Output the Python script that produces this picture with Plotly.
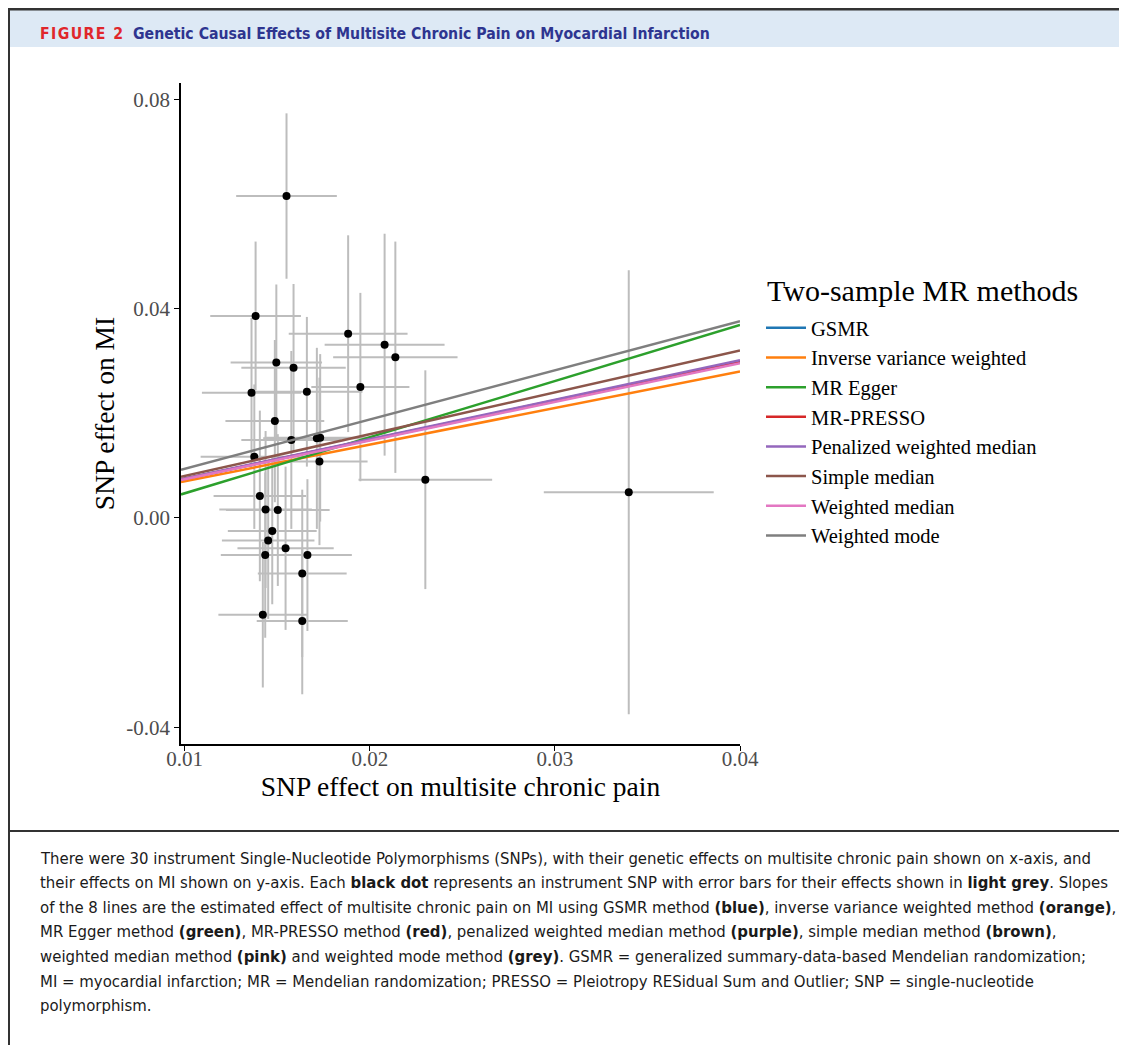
import plotly.graph_objects as go

# ---------------- data ----------------
snp_bx = [0.01550, 0.01383, 0.01883, 0.02080, 0.02138, 0.01495, 0.01588, 0.01361, 0.01660, 0.01949,
          0.01487, 0.01576, 0.01714, 0.01732, 0.01376, 0.01728, 0.02300, 0.01406, 0.01437, 0.01503,
          0.01473, 0.01451, 0.01545, 0.01435, 0.01663, 0.01635, 0.01422, 0.01635, 0.03399]
snp_bx_se = [0.00272, 0.00245, 0.00321, 0.00324, 0.00336, 0.00247, 0.00282, 0.00268, 0.00300, 0.00265,
             0.00267, 0.00270, 0.00290, 0.00300, 0.00290, 0.00260, 0.00361, 0.00250, 0.00250, 0.00280,
             0.00240, 0.00250, 0.00260, 0.00240, 0.00240, 0.00240, 0.00240, 0.00246, 0.00459]
snp_by = [0.0615, 0.0386, 0.0352, 0.0331, 0.0307, 0.0297, 0.0287, 0.0239, 0.0241, 0.0250,
          0.0185, 0.0149, 0.0152, 0.0153, 0.0117, 0.0108, 0.0073, 0.0042, 0.0016, 0.0015,
          -0.0025, -0.0043, -0.0058, -0.0071, -0.0071, -0.0106, -0.0185, -0.0197, 0.0049]
snp_by_se = [0.0158, 0.0142, 0.0188, 0.0212, 0.0221, 0.0149, 0.0160, 0.0143, 0.0143, 0.0180,
             0.0155, 0.0170, 0.0173, 0.0160, 0.0138, 0.0160, 0.0209, 0.0163, 0.0150, 0.0145,
             0.0140, 0.0150, 0.0156, 0.0158, 0.0145, 0.0160, 0.0139, 0.0140, 0.0424]

methods = ["GSMR", "Inverse variance weighted", "MR Egger", "MR-PRESSO",
           "Penalized weighted median", "Simple median", "Weighted median", "Weighted mode"]
slopes = [0.745, 0.700, 1.072, 0.748, 0.753, 0.800, 0.739, 0.940]
intercepts = [0.0, 0.0, -0.00602, 0.0, 0.0, 0.0, 0.0, 0.0]
colors = ["#1f77b4", "#ff7f0e", "#2ca02c", "#d62728", "#9467bd", "#8c564b", "#e377c2", "#7f7f7f"]

x_range = [0.0098, 0.0400]
y_range = [-0.0432, 0.0831]
x_tickvals = [0.01, 0.02, 0.03, 0.04]
x_ticktext = ["0.01", "0.02", "0.03", "0.04"]
y_tickvals = [-0.04, 0.00, 0.04, 0.08]
y_ticktext = ["-0.04", "0.00", "0.04", "0.08"]

header_label = "FIGURE 2"
header_title = "Genetic Causal Effects of Multisite Chronic Pain on Myocardial Infarction"
legend_title = "Two-sample MR methods"
caption_lines = [
    "There were 30 instrument Single-Nucleotide Polymorphisms (SNPs), with their genetic effects on multisite chronic pain shown on x-axis, and",
    "their effects on MI shown on y-axis. Each <b>black dot</b> represents an instrument SNP with error bars for their effects shown in <b>light grey</b>. Slopes",
    "of the 8 lines are the estimated effect of multisite chronic pain on MI using GSMR method <b>(blue)</b>, inverse variance weighted method <b>(orange)</b>,",
    "MR Egger method <b>(green)</b>, MR-PRESSO method <b>(red)</b>, penalized weighted median method <b>(purple)</b>, simple median method <b>(brown)</b>,",
    "weighted median method <b>(pink)</b> and weighted mode method <b>(grey)</b>. GSMR = generalized summary-data-based Mendelian randomization;",
    "MI = myocardial infarction; MR = Mendelian randomization; PRESSO = Pleiotropy RESidual Sum and Outlier; SNP = single-nucleotide",
    "polymorphism.",
]

# ---------------- layout helpers (page px -> paper) ----------------
W, H = 1111, 1037
OFF = 8


def PX(px):
    return (px - OFF) / W


def PY(py):
    return 1 - (py - OFF) / H


SERIF = "Liberation Serif, Times New Roman, serif"
SANS_C = "DejaVu Sans Condensed, Roboto, sans-serif"

fig = go.Figure()

fig.add_trace(go.Scatter(
    x=snp_bx, y=snp_by, mode="markers",
    marker=dict(color="black", size=8),
    error_x=dict(type="data", array=snp_bx_se, color="#bdbdbd", thickness=2, width=0),
    error_y=dict(type="data", array=snp_by_se, color="#bdbdbd", thickness=2, width=0),
    showlegend=False, hoverinfo="skip",
))

for name, b, a, c in zip(methods, slopes, intercepts, colors):
    fig.add_trace(go.Scatter(
        x=x_range, y=[a + b * xv for xv in x_range], mode="lines",
        line=dict(color=c, width=2.5), name=name,
    ))

shapes = [
    dict(type="rect", xref="paper", yref="paper", x0=PX(9), x1=PX(1130), y0=PY(9), y1=PY(47),
         fillcolor="#dde9f5", line=dict(width=0), layer="below"),
    dict(type="line", xref="paper", yref="paper", x0=PX(8), x1=PX(1130), y0=PY(9), y1=PY(9),
         line=dict(color="#333333", width=3)),
    dict(type="line", xref="paper", yref="paper", x0=PX(9), x1=PX(9), y0=PY(8), y1=PY(1060),
         line=dict(color="#333333", width=2)),
    dict(type="line", xref="paper", yref="paper", x0=PX(8), x1=PX(1130), y0=PY(831), y1=PY(831),
         line=dict(color="#333333", width=2)),
]

hair = "\u200a"
annotations = [
    dict(text="<b>" + hair.join(header_label) + "</b>", x=PX(38), y=PY(33), xref="paper", yref="paper",
         xanchor="left", yanchor="middle", showarrow=False,
         font=dict(family=SANS_C, size=15.7, color="#e0262b")),
    dict(text="<b>" + header_title + "</b>", x=PX(131), y=PY(33), xref="paper", yref="paper",
         xanchor="left", yanchor="middle", showarrow=False,
         font=dict(family=SANS_C, size=15.7, color="#2e3590")),
    dict(text=legend_title, x=PX(765), y=PY(290), xref="paper", yref="paper",
         xanchor="left", yanchor="middle", showarrow=False,
         font=dict(family=SERIF, size=30, color="black")),
]
for i, line in enumerate(caption_lines):
    annotations.append(dict(
        text=line, x=PX(38), y=PY(858 + i * 24.6), xref="paper", yref="paper",
        xanchor="left", yanchor="middle", showarrow=False,
        font=dict(family=SANS_C, size=16.6, color="#1a1a1a")))

axis_common = dict(
    automargin=False,
    showgrid=False, zeroline=False, showline=True, linecolor="black", linewidth=1.5,
    ticks="outside", ticklen=5, tickwidth=1.2, tickcolor="black",
    tickfont=dict(family=SERIF, size=21, color="#4d4d4d"),
)

fig.update_layout(
    width=W, height=H,
    margin=dict(l=0, r=0, t=0, b=0, autoexpand=False),
    paper_bgcolor="white", plot_bgcolor="white",
    xaxis=dict(domain=[PX(181), PX(740)], range=x_range, tickvals=x_tickvals, ticktext=x_ticktext,
               ticklabelstandoff=-10,
               title=dict(text="SNP effect on multisite chronic pain", standoff=2,
                          font=dict(family=SERIF, size=27.5, color="black")),
               **axis_common),
    yaxis=dict(domain=[PY(744), PY(83)], range=y_range, tickvals=y_tickvals, ticktext=y_ticktext,
               title=dict(text="SNP effect on MI", standoff=4,
                          font=dict(family=SERIF, size=27.5, color="black")),
               **axis_common),
    legend=dict(x=PX(761), y=PY(308), xanchor="left", yanchor="top", itemwidth=40,
                font=dict(family=SERIF, size=20.5, color="black"), bgcolor="rgba(0,0,0,0)"),
    shapes=shapes, annotations=annotations,
)

fig.write_html("out.html")
